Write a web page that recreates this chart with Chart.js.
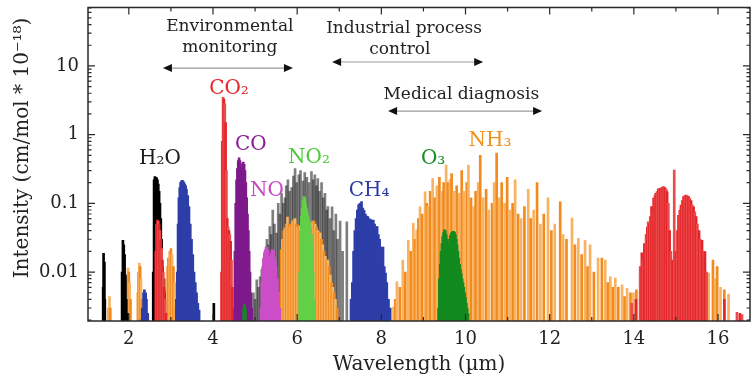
<!DOCTYPE html>
<html>
<head>
<meta charset="utf-8">
<script src="https://cdn.jsdelivr.net/npm/chart.js@4.4.1/dist/chart.umd.min.js"></script>
<style>
  html, body { margin: 0; padding: 0; background: #fff; }
  #wrap { width: 751px; height: 379px; position: relative; }
</style>
</head>
<body>
<div id="wrap"><canvas id="spectra"></canvas></div>
<script>
// Line positions (wavelength, µm) and intensities (cm/mol * 1e-18)

// H2O - stretch bands (black)
const h2oWl  = [1.39, 1.40, 1.42, 1.43,
                1.84, 1.86, 1.88, 1.90, 1.92, 1.94, 1.97,
                2.58, 2.60, 2.62, 2.64, 2.66, 2.68, 2.70, 2.72, 2.74, 2.76, 2.78, 2.80, 2.82, 2.84,
                4.02];
const h2oInt = [0.006, 0.0187, 0.014, 0.004,
                0.01, 0.029, 0.025, 0.018, 0.009, 0.004, 0.0025,
                0.01, 0.22, 0.245, 0.24, 0.235, 0.22, 0.19, 0.15, 0.1, 0.06, 0.03, 0.012, 0.008, 0.005,
                0.0035];

// H2O - bending band (grey lines)
const h2oBendWl  = [4.90, 4.96, 5.00, 5.04, 5.08, 5.12, 5.16, 5.20, 5.24, 5.28, 5.31, 5.35, 5.38, 5.42, 5.46,
                    5.51, 5.55, 5.59, 5.63, 5.67, 5.71, 5.74, 5.78, 5.82, 5.87, 5.91, 5.95, 5.99, 6.04, 6.08,
                    6.14, 6.18, 6.23, 6.28, 6.34, 6.38, 6.42, 6.46, 6.49, 6.53, 6.58, 6.62, 6.66, 6.70, 6.73,
                    6.78, 6.83, 6.87, 6.92, 6.96, 7.02, 7.08, 7.18];
const h2oBendInt = [0.003, 0.005, 0.004, 0.0077, 0.006, 0.0085, 0.011, 0.015, 0.02, 0.03, 0.025, 0.046, 0.035, 0.08, 0.05,
                    0.037, 0.1, 0.07, 0.14, 0.1, 0.12, 0.18, 0.22, 0.15, 0.17, 0.25, 0.32, 0.2, 0.26, 0.3,
                    0.21, 0.28, 0.24, 0.2, 0.29, 0.22, 0.26, 0.18, 0.23, 0.15, 0.2, 0.12, 0.14, 0.08, 0.09,
                    0.06, 0.089, 0.04, 0.07, 0.03, 0.055, 0.02, 0.054];

// CO2 (red)
const co2Wl  = [2.64, 2.66, 2.68, 2.70, 2.72, 2.74, 2.76, 2.78, 2.80, 2.82, 2.84, 2.86, 2.88,
                4.20, 4.22, 4.24, 4.26, 4.28, 4.30, 4.32, 4.34, 4.36, 4.38, 4.40, 4.42, 4.44, 4.46,
                13.95, 14.05, 14.15, 14.19, 14.22, 14.25, 14.29, 14.32, 14.34, 14.37, 14.39, 14.42, 14.45, 14.47,
                14.50, 14.52, 14.55, 14.58, 14.60, 14.63, 14.66, 14.69, 14.71, 14.74, 14.77, 14.79, 14.82, 14.85,
                14.88, 14.92, 14.96, 15.00, 15.03, 15.06, 15.09, 15.12, 15.15, 15.18, 15.21, 15.24, 15.27, 15.30,
                15.33, 15.36, 15.39, 15.42, 15.45, 15.48, 15.51, 15.55, 15.58, 15.62, 15.66, 15.69, 15.73,
                16.15, 16.45, 16.52, 16.57];
const co2Int = [0.02, 0.05, 0.057, 0.055, 0.05, 0.04, 0.03, 0.022, 0.015, 0.01, 0.006, 0.004, 0.0025,
                0.01, 0.8, 3.5, 3.3, 2.8, 1.5, 0.3, 0.06, 0.045, 0.04, 0.035, 0.028, 0.015, 0.006,
                0.0035, 0.004, 0.012, 0.019, 0.015, 0.026, 0.035, 0.045, 0.054, 0.05, 0.064, 0.09, 0.08, 0.119,
                0.13, 0.14, 0.148, 0.16, 0.165, 0.165, 0.17, 0.174, 0.174, 0.17, 0.16, 0.148, 0.1, 0.04,
                0.02, 0.015, 0.305, 0.02, 0.04, 0.067, 0.08, 0.094, 0.11, 0.125, 0.13, 0.132, 0.13, 0.125,
                0.118, 0.11, 0.095, 0.089, 0.075, 0.064, 0.05, 0.04, 0.03, 0.029, 0.02, 0.0198, 0.01,
                0.004, 0.0026, 0.0025, 0.0024];

// CO (purple)
const coWl  = [4.50, 4.52, 4.54, 4.56, 4.58, 4.60, 4.62, 4.64, 4.66, 4.68, 4.70, 4.72, 4.74,
               4.76, 4.78, 4.80, 4.82, 4.84, 4.86, 4.88, 4.90, 4.92];
const coInt = [0.003, 0.02, 0.1, 0.22, 0.32, 0.42, 0.46, 0.42, 0.33, 0.3, 0.38, 0.40, 0.37,
               0.3, 0.2, 0.12, 0.07, 0.04, 0.02, 0.01, 0.005, 0.003];

// NO (magenta)
const noWl  = [5.14, 5.16, 5.18, 5.20, 5.22, 5.24, 5.26, 5.28, 5.30, 5.32, 5.34, 5.36, 5.38,
               5.40, 5.42, 5.44, 5.46, 5.48, 5.50, 5.53, 5.56, 5.59];
const noInt = [0.003, 0.007, 0.012, 0.016, 0.019, 0.021, 0.023, 0.023, 0.021, 0.017, 0.016, 0.017, 0.019,
               0.021, 0.021, 0.02, 0.017, 0.015, 0.012, 0.008, 0.005, 0.003];

// NO2 (light green)
const no2Wl  = [6.06, 6.08, 6.10, 6.12, 6.14, 6.16, 6.18, 6.20, 6.22, 6.24, 6.26, 6.28, 6.30,
                6.32, 6.34, 6.36, 6.38, 6.40];
const no2Int = [0.01, 0.04, 0.065, 0.085, 0.11, 0.125, 0.12, 0.1, 0.085, 0.075, 0.065, 0.058, 0.052,
                0.045, 0.035, 0.024, 0.01, 0.004];

// CH4 (blue)
const ch4Wl  = [2.29, 2.32, 2.35, 2.37, 2.40, 2.42, 2.45,
                3.13, 3.15, 3.17, 3.19, 3.21, 3.23, 3.25, 3.27, 3.29, 3.31, 3.33, 3.35, 3.37, 3.40,
                3.43, 3.46, 3.49, 3.52, 3.55, 3.58, 3.61, 3.64, 3.67,
                7.28, 7.31, 7.34, 7.37, 7.40, 7.43, 7.46, 7.49, 7.53, 7.56, 7.59, 7.62, 7.65, 7.68,
                7.71, 7.74, 7.77, 7.81, 7.84, 7.87, 7.90, 7.93, 7.96, 8.00, 8.04, 8.07, 8.10, 8.13, 8.17, 8.21];
const ch4Int = [0.002, 0.003, 0.005, 0.0055, 0.005, 0.004, 0.0025,
                0.004, 0.01, 0.05, 0.12, 0.17, 0.2, 0.21, 0.216, 0.21, 0.2, 0.19, 0.18, 0.16, 0.13,
                0.09, 0.05, 0.03, 0.018, 0.01, 0.007, 0.005, 0.0035, 0.0028,
                0.004, 0.007, 0.02, 0.04, 0.06, 0.08, 0.095, 0.1, 0.106, 0.085, 0.079, 0.07, 0.065, 0.064,
                0.06, 0.058, 0.057, 0.057, 0.05, 0.046, 0.046, 0.035, 0.03, 0.023, 0.023, 0.012, 0.0097, 0.007, 0.004, 0.003];

// O3 (dark green)
const o3Wl  = [4.73, 4.75, 4.77,
               9.36, 9.38, 9.40, 9.42, 9.44, 9.46, 9.48, 9.50, 9.52, 9.54, 9.56, 9.58, 9.60, 9.62,
               9.64, 9.66, 9.68, 9.70, 9.72, 9.74, 9.76, 9.78, 9.80, 9.82, 9.84, 9.86, 9.88, 9.90,
               9.92, 9.94, 9.96, 9.98, 10.00, 10.02, 10.04, 10.06];
const o3Int = [0.003, 0.0034, 0.003,
               0.003, 0.008, 0.013, 0.02, 0.026, 0.033, 0.038, 0.041, 0.04, 0.035, 0.03, 0.025, 0.026, 0.03,
               0.034, 0.037, 0.038, 0.039, 0.039, 0.038, 0.035, 0.03, 0.025, 0.02, 0.016, 0.013, 0.011, 0.0095,
               0.008, 0.007, 0.006, 0.005, 0.0042, 0.0035, 0.003, 0.0025];

// NH3 (orange)
const nh3Wl  = [1.52, 1.54, 1.56,
                1.94, 1.96, 1.98, 2.00, 2.02, 2.04,
                2.21, 2.23, 2.25, 2.27, 2.29, 2.31,
                2.85, 2.88, 2.91, 2.94, 2.97, 3.00, 3.03, 3.06, 3.09, 3.12,
                5.59, 5.62, 5.65, 5.68, 5.71, 5.74, 5.77, 5.80, 5.83, 5.86, 5.89, 5.92, 5.95, 5.98, 6.01,
                6.04, 6.07, 6.10, 6.13, 6.16, 6.19, 6.22, 6.25, 6.28, 6.31, 6.34, 6.37, 6.40, 6.43, 6.46,
                6.49, 6.52, 6.55, 6.58, 6.61, 6.64, 6.67, 6.70, 6.73, 6.76, 6.79, 6.82, 6.85, 6.88, 6.91, 6.95,
                8.29, 8.33, 8.37, 8.44, 8.51, 8.57, 8.64, 8.70, 8.76, 8.80, 8.84, 8.88, 8.92, 8.97, 9.04,
                9.08, 9.11, 9.16, 9.22, 9.27, 9.32, 9.38, 9.43, 9.48, 9.54, 9.58, 9.63, 9.67, 9.72, 9.79,
                9.85, 9.91, 9.96, 10.03, 10.07, 10.13, 10.19, 10.24, 10.30, 10.35, 10.42, 10.49, 10.55, 10.63, 10.68,
                10.74, 10.80, 10.86, 10.93, 10.99, 11.05, 11.12, 11.18, 11.25, 11.32, 11.40, 11.49, 11.55, 11.62, 11.70,
                11.78, 11.86, 11.96, 12.04, 12.12, 12.25, 12.32, 12.40, 12.53, 12.60, 12.68, 12.76, 12.84, 12.90, 12.96,
                13.05, 13.15, 13.24, 13.32, 13.38, 13.44, 13.50, 13.56, 13.63, 13.72, 13.78, 13.84, 13.92, 13.99, 14.06,
                14.15, 14.30, 14.43, 14.60, 14.75, 15.34, 15.55, 15.70, 15.78, 15.88, 15.93, 15.98, 16.06, 16.15, 16.25];
const nh3Int = [0.003, 0.0044, 0.003,
                0.004, 0.008, 0.0114, 0.01, 0.007, 0.004,
                0.005, 0.01, 0.0135, 0.012, 0.008, 0.004,
                0.004, 0.008, 0.012, 0.016, 0.02, 0.022, 0.018, 0.012, 0.007, 0.003,
                0.005, 0.021, 0.03, 0.04, 0.044, 0.05, 0.063, 0.05, 0.045, 0.05, 0.055, 0.058, 0.06, 0.05, 0.045,
                0.048, 0.045, 0.04, 0.04, 0.04, 0.042, 0.045, 0.045, 0.048, 0.05, 0.052, 0.055, 0.055, 0.05, 0.045,
                0.04, 0.038, 0.037, 0.03, 0.025, 0.02, 0.017, 0.015, 0.015, 0.012, 0.009, 0.007, 0.006, 0.005, 0.004, 0.003,
                0.0031, 0.004, 0.0072, 0.006, 0.015, 0.01, 0.029, 0.02, 0.051, 0.03, 0.041, 0.06, 0.089, 0.07, 0.147,
                0.1, 0.09, 0.15, 0.23, 0.12, 0.18, 0.24, 0.15, 0.2, 0.36, 0.2, 0.22, 0.27, 0.15, 0.18,
                0.14, 0.30, 0.15, 0.2, 0.36, 0.12, 0.09, 0.15, 0.2, 0.50, 0.12, 0.16, 0.08, 0.10, 0.2,
                0.54, 0.12, 0.20, 0.1, 0.24, 0.08, 0.1, 0.22, 0.07, 0.06, 0.09, 0.16, 0.06, 0.08, 0.20,
                0.05, 0.07, 0.12, 0.04, 0.05, 0.105, 0.035, 0.03, 0.061, 0.025, 0.031, 0.018, 0.029, 0.012, 0.025,
                0.01, 0.016, 0.016, 0.015, 0.007, 0.0085, 0.006, 0.0082, 0.006, 0.0065, 0.0044, 0.0058, 0.005, 0.005, 0.0055,
                0.004, 0.006, 0.01, 0.008, 0.006, 0.0045, 0.006, 0.008, 0.0097, 0.015, 0.008, 0.012, 0.006, 0.0055, 0.0048];

// Axis settings
const xMin = 1.03, xMax = 16.76;
const yMin = 0.00194, yMax = 70.8;
const yTickLabels = { '-2': '0.01', '-1': '0.1', '0': '1', '1': '10' };

// Molecule labels and application ranges (in data units)
const molLabels = [
  { text: 'H₂O', x: 2.74, y: 0.44, color: '#1a1a1a' },
  { text: 'CO₂', x: 4.38, y: 4.6, color: '#e8262b' },
  { text: 'CO', x: 4.90, y: 0.71, color: '#8a1f96' },
  { text: 'NO', x: 5.28, y: 0.151, color: '#c94bc3' },
  { text: 'NO₂', x: 6.28, y: 0.457, color: '#52c83a' },
  { text: 'CH₄', x: 7.71, y: 0.151, color: '#2b3ba5' },
  { text: 'O₃', x: 9.23, y: 0.44, color: '#1b8e28' },
  { text: 'NH₃', x: 10.58, y: 0.81, color: '#f0901e' }
];
const appNotes = [
  { text: 'Environmental', x: 4.40, y: 36.8 },
  { text: 'monitoring', x: 4.40, y: 18.2 },
  { text: 'Industrial process', x: 8.54, y: 35 },
  { text: 'control', x: 8.44, y: 17 },
  { text: 'Medical diagnosis', x: 9.90, y: 3.77 }
];
const appArrows = [
  { from: 2.81, to: 5.90, y: 9.3 },
  { from: 6.83, to: 10.42, y: 11.4 },
  { from: 8.16, to: 11.82, y: 2.2 }
];

const serif = '"DejaVu Serif", "Liberation Serif", serif';
const pts = (wl, val) => wl.map((x, i) => ({ x, y: val[i] }));
const alt = (a, b) => (c) => (c.dataIndex % 2 ? b : a);

// frame + inward tick marks on all four sides
const frameTicks = {
  id: 'frameTicks',
  afterDraw(chart) {
    const { ctx, chartArea: a, scales: { x, y } } = chart;
    ctx.save();
    ctx.strokeStyle = '#2a2a2a';
    ctx.lineWidth = 1.5;
    ctx.strokeRect(a.left, a.top, a.right - a.left, a.bottom - a.top);
    ctx.lineWidth = 1.2;
    ctx.beginPath();
    for (let v = 1; v <= 16; v++) {
      const px = x.getPixelForValue(v);
      if (px < a.left || px > a.right) continue;
      const len = v % 2 === 0 ? 7 : 4;
      ctx.moveTo(px, a.bottom); ctx.lineTo(px, a.bottom - len);
      ctx.moveTo(px, a.top); ctx.lineTo(px, a.top + len);
    }
    for (let e = -3; e <= 1; e++) {
      for (let m = 1; m <= 9; m++) {
        const v = m * Math.pow(10, e);
        if (v < yMin || v > yMax) continue;
        const py = y.getPixelForValue(v);
        const len = m === 1 ? 7 : 3.5;
        ctx.moveTo(a.left, py); ctx.lineTo(a.left + len, py);
        ctx.moveTo(a.right, py); ctx.lineTo(a.right - len, py);
      }
    }
    ctx.stroke();
    ctx.restore();
  }
};

// labels, application arrows and y-axis title
const notes = {
  id: 'notes',
  afterDraw(chart) {
    const { ctx, scales: { x, y } } = chart;
    ctx.save();
    ctx.textAlign = 'center';
    ctx.textBaseline = 'middle';

    ctx.font = '20px ' + serif;
    molLabels.forEach(l => {
      ctx.fillStyle = l.color;
      ctx.fillText(l.text, x.getPixelForValue(l.x), y.getPixelForValue(l.y));
    });

    ctx.font = '17px ' + serif;
    ctx.fillStyle = '#222';
    appNotes.forEach(n => ctx.fillText(n.text, x.getPixelForValue(n.x), y.getPixelForValue(n.y)));

    appArrows.forEach(ar => {
      const x1 = x.getPixelForValue(ar.from), x2 = x.getPixelForValue(ar.to);
      const py = y.getPixelForValue(ar.y);
      ctx.strokeStyle = '#9a9a9a';
      ctx.lineWidth = 1.2;
      ctx.beginPath();
      ctx.moveTo(x1 + 6, py); ctx.lineTo(x2 - 6, py);
      ctx.stroke();
      ctx.fillStyle = '#111';
      ctx.beginPath();
      ctx.moveTo(x1, py); ctx.lineTo(x1 + 9, py - 4); ctx.lineTo(x1 + 9, py + 4); ctx.closePath();
      ctx.moveTo(x2, py); ctx.lineTo(x2 - 9, py - 4); ctx.lineTo(x2 - 9, py + 4); ctx.closePath();
      ctx.fill();
    });

    // y title
    ctx.translate(23, 148);
    ctx.rotate(-Math.PI / 2);
    ctx.font = '20px ' + serif;
    ctx.fillStyle = '#222';
    ctx.fillText('Intensity (cm/mol * 10⁻¹⁸)', 0, 0);
    ctx.restore();
  }
};

new Chart(document.getElementById('spectra'), {
  type: 'bar',
  data: {
    datasets: [
      { label: 'O3', data: pts(o3Wl, o3Int), backgroundColor: '#138a1f', order: 0 },
      { label: 'NO2', data: pts(no2Wl, no2Int), backgroundColor: '#62cf48', order: 1 },
      { label: 'CO2', data: pts(co2Wl, co2Int), backgroundColor: alt('#e3262b', '#ec4a4a'), order: 2 },
      { label: 'CO', data: pts(coWl, coInt), backgroundColor: '#7e1a8c', order: 3 },
      { label: 'NO', data: pts(noWl, noInt), backgroundColor: '#cc4fc8', order: 4 },
      { label: 'CH4', data: pts(ch4Wl, ch4Int), backgroundColor: '#2d3ea8', order: 5 },
      { label: 'H2O', data: pts(h2oWl, h2oInt), backgroundColor: '#000', order: 6 },
      { label: 'NH3', data: pts(nh3Wl, nh3Int), backgroundColor: alt('#f28a1e', '#f7b262'), order: 7 },
      { label: 'H2O bend', data: pts(h2oBendWl, h2oBendInt), backgroundColor: 'rgba(40,40,40,0.6)', order: 8 }
    ]
  },
  options: {
    responsive: true,
    maintainAspectRatio: false,
    animation: false,
    layout: { padding: { top: 7.5, right: 1, left: 0, bottom: 0 } },
    datasets: { bar: { barThickness: 2, grouped: false, borderWidth: 0 } },
    scales: {
      x: {
        type: 'linear',
        offset: false,
        min: xMin,
        max: xMax,
        grid: { display: false, offset: false, drawTicks: false },
        border: { display: false },
        ticks: {
          stepSize: 2,
          includeBounds: false,
          padding: 8,
          color: '#222',
          font: { family: serif, size: 18 },
          callback: v => (v % 2 === 0 ? String(v) : null)
        },
        title: {
          display: true,
          text: 'Wavelength (µm)',
          color: '#222',
          font: { family: serif, size: 20 },
          padding: { top: 0, bottom: 2 }
        },
        afterFit: s => { s.height = 58; s.paddingLeft = 0; s.paddingRight = 0; }
      },
      y: {
        type: 'logarithmic',
        min: yMin,
        max: yMax,
        grid: { display: false, drawTicks: false },
        border: { display: false },
        ticks: {
          autoSkip: false,
          padding: 9,
          color: '#222',
          font: { family: serif, size: 18 },
          callback: v => {
            const e = Math.log10(v);
            if (Math.abs(e - Math.round(e)) > 1e-6) return null;
            return yTickLabels[String(Math.round(e))] ?? null;
          }
        },
        afterFit: s => { s.width = 88; s.paddingTop = 0; s.paddingBottom = 0; }
      }
    },
    plugins: {
      legend: { display: false },
      tooltip: { enabled: false }
    }
  },
  plugins: [frameTicks, notes]
});
</script>
</body>
</html>
